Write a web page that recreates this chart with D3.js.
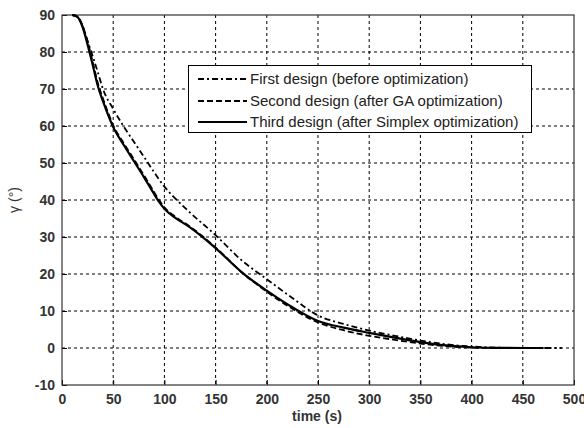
<!DOCTYPE html>
<html><head><meta charset="utf-8">
<script src="https://cdn.jsdelivr.net/npm/d3@7"></script>
<style>body{margin:0;background:#fff}svg{display:block}</style>
</head><body>
<script>
const xTicks = [0,50,100,150,200,250,300,350,400,450,500];
const yTicks = [-10,0,10,20,30,40,50,60,70,80,90];

const tFirst  = [10,15,20,25,30,35,40,50,60,70,80,90,100,110,125,150,175,200,225,250,275,300,325,350,375,400,425,450,488];
const gFirst  = [90,89.5,87,83,78.8,74.5,70,64.6,60,55.8,51.7,47.5,43.6,40.6,36.6,30.5,23.8,18.6,13.5,8.8,6.5,4.7,3.3,2,1,0.4,0.1,0,0];

const tSecond = [10,15,20,25,30,35,40,45,50,60,70,80,90,95,100,110,125,150,175,200,225,250,275,300,325,350,375,400,425,450,478];
const gSecond = [90,89.6,87.2,82.8,77.3,71.6,67.4,63.6,60.2,55.5,51.1,46.7,42.1,39.9,38,35.6,32.8,27.2,20.6,15.2,10.6,6.9,4.8,3.3,2.2,1.2,0.5,0.1,0,0,0];

const tThird  = [10,15,20,25,30,35,40,45,50,60,70,80,90,95,100,110,125,150,175,200,225,250,275,300,325,350,375,400,425,450,470];
const gThird  = [90,89.5,86.8,82,76.5,70.8,66.7,63,59.7,55,50.6,46.2,41.6,39.4,37.6,35.3,32.6,27,20.6,15.5,11,7.3,5.5,4.1,2.8,1.6,0.7,0.2,0.05,0,0];

const seriesNames = ["First design (before optimization)","Second design (after GA optimization)","Third design (after Simplex optimization)"];

const W = 584, H = 428;
const m = {l:62, r:10, t:15, b:43};
const svg = d3.select("body").append("svg").attr("width",W).attr("height",H);
const x = d3.scaleLinear().domain([0,500]).range([m.l, W-m.r]);
const y = d3.scaleLinear().domain([-10,90]).range([H-m.b, m.t]);

const fontFam = "'Liberation Sans', Arial, sans-serif";

// grid
const g = svg.append("g");
g.selectAll(".vg").data(xTicks.slice(1,-1)).join("line")
  .attr("x1",d=>x(d)).attr("x2",d=>x(d)).attr("y1",y(90)).attr("y2",y(-10))
  .attr("stroke","#000").attr("stroke-width",1).attr("stroke-dasharray","3,3");
g.selectAll(".hg").data(yTicks.slice(1,-1)).join("line")
  .attr("y1",d=>y(d)).attr("y2",d=>y(d)).attr("x1",x(0)).attr("x2",x(500))
  .attr("stroke","#000").attr("stroke-width",1).attr("stroke-dasharray","3,3");

// axes
const fmt = d => String(d);
const xAxis = d3.axisBottom(x).tickValues(xTicks).tickFormat(fmt).tickSizeInner(-5).tickSizeOuter(0).tickPadding(9);
const yAxis = d3.axisLeft(y).tickValues(yTicks).tickFormat(fmt).tickSizeInner(-5).tickSizeOuter(0).tickPadding(7);
const gx = svg.append("g").attr("transform",`translate(0,${y(-10)})`).call(xAxis);
const gy = svg.append("g").attr("transform",`translate(${x(0)},0)`).call(yAxis);
[gx,gy].forEach(a=>{
  a.select(".domain").remove();
  a.selectAll("text").attr("font-family",fontFam).attr("font-size",14).attr("font-weight","bold").attr("fill","#333");
  a.selectAll("line").attr("stroke","#000");
});
// box
svg.append("rect").attr("x",x(0)).attr("y",y(90)).attr("width",x(500)-x(0)).attr("height",y(-10)-y(90))
  .attr("fill","none").attr("stroke","#333").attr("stroke-width",1.2);

// lines
const styles = [
  {dash:"6,3,2,3", w:1.8},
  {dash:"6,3", w:1.8},
  {dash:null, w:2.2}
];
const data = [
  d3.zip(tFirst,gFirst), d3.zip(tSecond,gSecond), d3.zip(tThird,gThird)
];
const line = d3.line().x(d=>x(d[0])).y(d=>y(d[1])).curve(d3.curveMonotoneX);
data.forEach((d,i)=>{
  svg.append("path").datum(d).attr("d",line).attr("fill","none").attr("stroke","#000")
    .attr("stroke-width",styles[i].w).attr("stroke-dasharray",styles[i].dash);
});

// legend
const lg = svg.append("g");
lg.append("rect").attr("x",188.5).attr("y",65.5).attr("width",343).attr("height",67)
  .attr("fill","#fff").attr("stroke","#000").attr("stroke-width",1);
const rowsY = [79,101,122];
seriesNames.forEach((n,i)=>{
  lg.append("line").attr("x1",198).attr("x2",247).attr("y1",rowsY[i]).attr("y2",rowsY[i])
    .attr("stroke","#000").attr("stroke-width",styles[i].w).attr("stroke-dasharray",styles[i].dash);
  lg.append("text").attr("x",250).attr("y",rowsY[i]+5).text(n)
    .attr("font-family",fontFam).attr("font-size",15).attr("fill","#222");
});

// labels
svg.append("text").attr("x",317).attr("y",421).attr("text-anchor","middle").text("time (s)")
  .attr("font-family",fontFam).attr("font-size",14).attr("font-weight","bold").attr("fill","#333");
svg.append("text").attr("transform",`translate(19,${y(40)}) rotate(-90)`).attr("text-anchor","middle").text("γ (°)")
  .attr("font-family",fontFam).attr("font-size",14).attr("fill","#333");
</script>
</body></html>
